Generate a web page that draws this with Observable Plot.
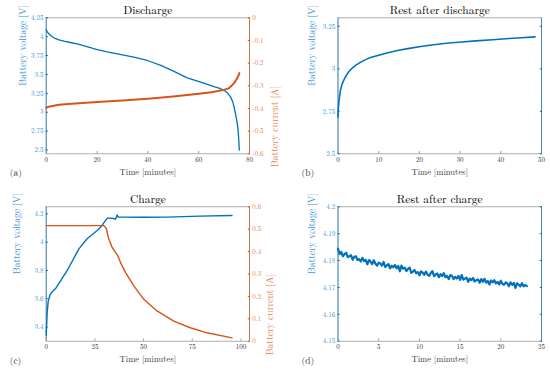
<!DOCTYPE html>
<html><head><meta charset="utf-8">
<script src="https://cdn.jsdelivr.net/npm/d3@7"></script>
<script src="https://cdn.jsdelivr.net/npm/@observablehq/plot@0.6"></script>
<style>
html,body{margin:0;padding:0;background:#fff;}
#wrap{position:relative;width:550px;height:371px;overflow:hidden;background:#fff;}
#wrap svg{position:absolute;left:0;top:0;}
#wrap svg, #wrap svg text, #wrap svg g{font-family:"Latin Modern Roman","Liberation Serif",serif !important;}
</style></head><body><div id="wrap"></div>
<script>
// ---------- data ----------
// (a) Discharge
const dchT = [0, 0.5, 1.05, 2, 3, 5, 6.95, 9.5, 12.2, 16, 20.1, 24, 28, 34.5, 39.8, 45.1, 50.3, 55.5, 60.8, 66, 68, 70, 71.5, 72.6, 73.4, 73.9, 74.5, 75, 75.4, 75.7, 76];
const dchV = [4.09, 4.06, 4.038, 4.008, 3.985, 3.958, 3.94, 3.923, 3.906, 3.87, 3.83, 3.80, 3.774, 3.729, 3.685, 3.62, 3.54, 3.456, 3.398, 3.34, 3.32, 3.29, 3.25, 3.20, 3.14, 3.07, 2.98, 2.89, 2.80, 2.68, 2.5];
const dchIT = [0, 1, 5, 10, 20, 30, 40, 50, 60, 65, 70, 72, 73, 74, 75, 75.6, 76];
const dchI = [-0.397, -0.392, -0.384, -0.379, -0.372, -0.365, -0.357, -0.347, -0.335, -0.328, -0.318, -0.31, -0.299, -0.287, -0.269, -0.257, -0.244];
// (b) Rest after discharge
const rdT = [0, 0.1, 0.25, 0.6, 1, 1.4, 2, 2.6, 3.3, 4.3, 5.5, 6.75, 8, 10, 12, 14.9, 17.5, 20.7, 24, 27.2, 30.5, 33.8, 38, 42, 45, 48.4];
const rdV = [2.716, 2.77, 2.814, 2.873, 2.91, 2.932, 2.96, 2.981, 3.0, 3.02, 3.038, 3.054, 3.066, 3.08, 3.093, 3.109, 3.12, 3.133, 3.143, 3.152, 3.158, 3.164, 3.171, 3.178, 3.183, 3.188];
// (c) Charge
const chT = [0, 0.5, 1, 1.9, 3, 4.8, 10.8, 16.8, 21, 26.2, 28.7, 30.4, 31.6, 33, 34.7, 35.5, 36, 36.4, 36.8, 37.3, 40, 50, 62, 79, 95.4];
const chV = [3.343, 3.50, 3.58, 3.625, 3.648, 3.672, 3.80, 3.953, 4.024, 4.083, 4.118, 4.153, 4.172, 4.17, 4.167, 4.162, 4.175, 4.193, 4.18, 4.177, 4.177, 4.176, 4.177, 4.184, 4.188];
const chIT = [0, 29.4, 29.9, 30.9, 32.1, 33.8, 35.6, 36.8, 38.1, 40.7, 45, 50.1, 56.9, 65.5, 74, 82.6, 95.4];
const chI = [0.516, 0.516, 0.514, 0.502, 0.457, 0.42, 0.397, 0.382, 0.352, 0.307, 0.247, 0.187, 0.135, 0.09, 0.06, 0.0375, 0.015];
// (d) Rest after charge
const rcT = [0,0.2,0.4,0.6,0.8,1,1.2,1.4,1.6,1.8,2,2.2,2.4,2.6,2.8,3,3.2,3.4,3.6,3.8,4,4.2,4.4,4.6,4.8,5,5.2,5.4,5.6,5.8,6,6.2,6.4,6.6,6.8,7,7.2,7.4,7.6,7.8,8,8.2,8.4,8.6,8.8,9,9.2,9.4,9.6,9.8,10,10.2,10.4,10.6,10.8,11,11.2,11.4,11.6,11.8,12,12.2,12.4,12.6,12.8,13,13.2,13.4,13.6,13.8,14,14.2,14.4,14.6,14.8,15,15.2,15.4,15.6,15.8,16,16.2,16.4,16.6,16.8,17,17.2,17.4,17.6,17.8,18,18.2,18.4,18.6,18.8,19,19.2,19.4,19.6,19.8,20,20.2,20.4,20.6,20.8,21,21.2,21.4,21.6,21.8,22,22.2,22.4,22.6,22.8,23,23.2];
const rcV = [4.1844,4.1824,4.1832,4.1816,4.1824,4.1829,4.1813,4.1816,4.1820,4.1803,4.1814,4.1816,4.1802,4.1805,4.1797,4.1810,4.1798,4.1803,4.1786,4.1802,4.1796,4.1787,4.1801,4.1788,4.1781,4.1792,4.1789,4.1781,4.1795,4.1776,4.1782,4.1787,4.1771,4.1781,4.1775,4.1784,4.1771,4.1780,4.1760,4.1781,4.1770,4.1774,4.1761,4.1769,4.1774,4.1754,4.1759,4.1765,4.1753,4.1757,4.1745,4.1760,4.1755,4.1747,4.1759,4.1748,4.1743,4.1754,4.1761,4.1742,4.1748,4.1752,4.1738,4.1749,4.1743,4.1753,4.1738,4.1743,4.1731,4.1746,4.1743,4.1731,4.1739,4.1733,4.1743,4.1728,4.1746,4.1729,4.1733,4.1736,4.1721,4.1733,4.1727,4.1735,4.1722,4.1727,4.1730,4.1717,4.1731,4.1721,4.1732,4.1718,4.1724,4.1711,4.1726,4.1719,4.1727,4.1715,4.1721,4.1711,4.1725,4.1714,4.1710,4.1719,4.1715,4.1705,4.1719,4.1710,4.1717,4.1698,4.1715,4.1710,4.1704,4.1716,4.1704,4.1709,4.1705];

// axes
const xDomA = [0, 80],   xTicksA = [0, 20, 40, 60, 80];
const yDomA = [2.45, 4.25], yTicksA = [2.5, 2.75, 3, 3.25, 3.5, 3.75, 4, 4.25];
const yDomAR = [-0.6, 0], yTicksAR = [-0.6, -0.5, -0.4, -0.3, -0.2, -0.1, 0];
const xDomB = [0, 50],   xTicksB = [0, 10, 20, 30, 40, 50];
const yDomB = [2.5, 3.3], yTicksB = [2.5, 2.75, 3, 3.25];
const xDomC = [0, 104.4], xTicksC = [0, 25, 50, 75, 100];
const yDomC = [3.3, 4.25], yTicksC = [3.4, 3.6, 3.8, 4, 4.2];
const yDomCR = [0, 0.6], yTicksCR = [0, 0.1, 0.2, 0.3, 0.4, 0.5, 0.6];
const xDomD = [0, 25],   xTicksD = [0, 5, 10, 15, 20, 25];
const yDomD = [4.15, 4.2], yTicksD = [4.15, 4.16, 4.17, 4.18, 4.19, 4.2];

const titles = ["Discharge", "Rest after discharge", "Charge", "Rest after charge"];
const letters = ["(a)", "(b)", "(c)", "(d)"];
const xLabel = "Time [minutes]";
const vLabel = "Battery voltage [V]";
const iLabel = "Battery current [A]";

// ---------- style ----------
const BLUE = "#0072BD", ORANGE = "#D95319";
const BLUE_T = "#3d92d4", ORANGE_T = "#e57f55";
const GRAY = "#999999", DARK = "#333333";
const FONT = "Latin Modern Roman, Liberation Serif, serif";
const W = 550, H = 371;
const fmt = d => String(d);
const TICK = 7, LAB = 8.6, YLAB = 9.6, TITLE = 11.5, LET = 9.5;

const panels = [
  {mL: 45.7, mR: 301, mT: 17.3, mB: 217.7},
  {mL: 337.5, mR: 9, mT: 17.3, mB: 217.7},
  {mL: 45.7, mR: 301, mT: 206.3, mB: 30.3},
  {mL: 337.5, mR: 9, mT: 206.3, mB: 30.3}
];

const wrap = document.getElementById("wrap");

function base(p, xDom, xTicks, yDom, yTicks, lineData, title, letter, vdx, rightMirror, lineW) {
  const marks = [
    Plot.frame({stroke: GRAY, strokeWidth: 0.8}),
    Plot.ruleX([xDom[0]], {stroke: BLUE, strokeWidth: 0.8, strokeOpacity: 0.75}),
    Plot.axisX(xTicks, {tickSize: -2.2, tickPadding: 5.5, fontSize: TICK, fontFamily: FONT, fill: DARK, stroke: GRAY, tickFormat: fmt, label: null}),
    Plot.axisY(yTicks, {anchor: "left", tickSize: -2.2, tickPadding: 5, fontSize: TICK, fontFamily: FONT, fill: BLUE_T, stroke: BLUE, tickFormat: fmt, label: null}),
  ];
  if (rightMirror) {
    marks.push(Plot.ruleX([xDom[1]], {stroke: BLUE, strokeWidth: 0.8, strokeOpacity: 0.75}));
    marks.push(Plot.axisY(yTicks, {anchor: "right", tickSize: -2.2, tickPadding: 5, stroke: BLUE, tickFormat: () => "", label: null}));
  }
  marks.push(Plot.line(lineData, {x: "t", y: "v", stroke: BLUE, strokeWidth: lineW, strokeLinejoin: "round"}));
  marks.push(Plot.text([title], {text: d => d, frameAnchor: "top", dy: -7.5, fontSize: TITLE, fontFamily: FONT, fill: "#000", lineAnchor: "middle"}));
  marks.push(Plot.text([xLabel], {text: d => d, frameAnchor: "bottom", dy: 18.4, fontSize: LAB, fontFamily: FONT, fill: DARK, lineAnchor: "middle"}));
  marks.push(Plot.text([vLabel], {text: d => d, frameAnchor: "left", dx: vdx, rotate: -90, fontSize: YLAB, fontFamily: FONT, fill: BLUE_T, lineAnchor: "middle"}));
  marks.push(Plot.text([letter], {text: d => d, frameAnchor: "bottom-left", dx: -36.5, dy: 19.5, fontSize: LET, fontFamily: FONT, fill: DARK, lineAnchor: "middle"}));
  return Plot.plot({
    width: W, height: H,
    marginLeft: p.mL, marginRight: p.mR, marginTop: p.mT, marginBottom: p.mB,
    x: {domain: xDom}, y: {domain: yDom},
    style: {fontFamily: FONT, background: "transparent"},
    marks
  });
}

function overlay(p, xDom, yDom, yTicks, lineData, rdx, lineW) {
  return Plot.plot({
    width: W, height: H,
    marginLeft: p.mL, marginRight: p.mR, marginTop: p.mT, marginBottom: p.mB,
    x: {domain: xDom, axis: null}, y: {domain: yDom},
    style: {fontFamily: FONT, background: "transparent"},
    marks: [
      Plot.ruleX([xDom[1]], {stroke: ORANGE, strokeWidth: 0.8, strokeOpacity: 0.75}),
      Plot.axisY(yTicks, {anchor: "right", tickSize: -2.2, tickPadding: 5, fontSize: TICK, fontFamily: FONT, fill: ORANGE_T, stroke: ORANGE, tickFormat: fmt, label: null}),
      Plot.line(lineData, {x: "t", y: "v", stroke: ORANGE, strokeWidth: lineW, strokeLinejoin: "round"}),
      Plot.text([iLabel], {text: d => d, frameAnchor: "right", dx: rdx, rotate: -90, fontSize: YLAB, fontFamily: FONT, fill: ORANGE_T, lineAnchor: "middle"})
    ]
  });
}

const zip = (a, b) => a.map((t, i) => ({t, v: b[i]}));

wrap.append(base(panels[0], xDomA, xTicksA, yDomA, yTicksA, zip(dchT, dchV), titles[0], letters[0], -23.5, false, 1.3));
wrap.append(overlay(panels[0], xDomA, yDomAR, yTicksAR, zip(dchIT, dchI), 25, 2));
wrap.append(base(panels[1], xDomB, xTicksB, yDomB, yTicksB, zip(rdT, rdV), titles[1], letters[1], -26.5, true, 1.6));
wrap.append(base(panels[2], xDomC, xTicksC, yDomC, yTicksC, zip(chT, chV), titles[2], letters[2], -29, false, 1.4));
wrap.append(overlay(panels[2], xDomC, yDomCR, yTicksCR, zip(chIT, chI), 20.5, 1.4));
wrap.append(base(panels[3], xDomD, xTicksD, yDomD, yTicksD, zip(rcT, rcV), titles[3], letters[3], -26.5, true, 2.2));
</script></body></html>
